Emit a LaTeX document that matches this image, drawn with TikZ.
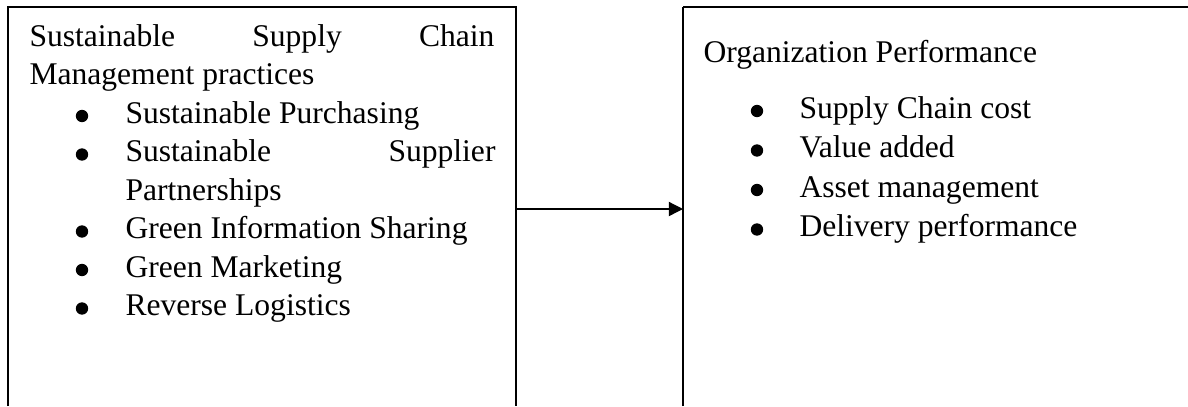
\documentclass[tikz,border=0pt]{standalone}
\usepackage{fontspec}
\setmainfont{Liberation Serif}
\usetikzlibrary{arrows.meta}

\begin{document}
\begin{tikzpicture}[x=0.38pt, y=-0.38pt,
			every node/.style = {inner sep=0pt, anchor=base west,
				font=\fontsize{12}{14}\selectfont},
			dot/.style = {circle, fill, anchor=center, minimum size=4.7pt},
			frame/.style = {line width=0.6pt},
			link/.style = {line width=0.5pt, -{Triangle[length=5.4pt, width=5.4pt]}}]
			\useasboundingbox (0,0) rectangle (1188,406);
			% boxes, open at the bottom
			\draw[frame] (8,406) -- (8,7) -- (516,7) -- (516,406);
			\draw[frame] (683,406) -- (683,7);
			\draw[frame, line width=0.8pt] (683,7) -- (1188,7);
			\coordinate (ssm) at (517,209);
			\coordinate (op) at (683,209);
			\draw[link] (ssm) -- (op);
			% left box
			\node (ssmhead) at (29,46) {\hbox to 176.7pt{Sustainable\hfill Supply\hfill Chain}};
			\node (ssmsub) at (29,84.5) {Management practices};
			\node[dot] (b1) at (82,116) {};
			\node (ssm1) at (125,123) {Sustainable Purchasing};
			\node[dot] (b2) at (82,154.5) {};
			\node (ssm2) at (125,161.5) {\hbox to 140.6pt{Sustainable\hfill Supplier}};
			\node (ssm2b) at (125,200) {Partnerships};
			\node[dot] (b3) at (82,231.5) {};
			\node (ssm3) at (125,238.5) {Green Information Sharing};
			\node[dot] (b4) at (82,270) {};
			\node (ssm4) at (125,277) {Green Marketing};
			\node[dot] (b5) at (82,308.5) {};
			\node (ssm5) at (125,315.5) {Reverse Logistics};
			% right box
			\node (ophead) at (703,62) {Organization Performance};
			\node[dot] (c1) at (757,111) {};
			\node (op1) at (799,118) {Supply Chain cost};
			\node[dot] (c2) at (757,150.5) {};
			\node (op2) at (799,157.5) {Value added};
			\node[dot] (c3) at (757,190) {};
			\node (op3) at (799,197) {Asset management};
			\node[dot] (c4) at (757,229.5) {};
			\node (op4) at (799,236.5) {Delivery performance};
		\end{tikzpicture}
\end{document}
